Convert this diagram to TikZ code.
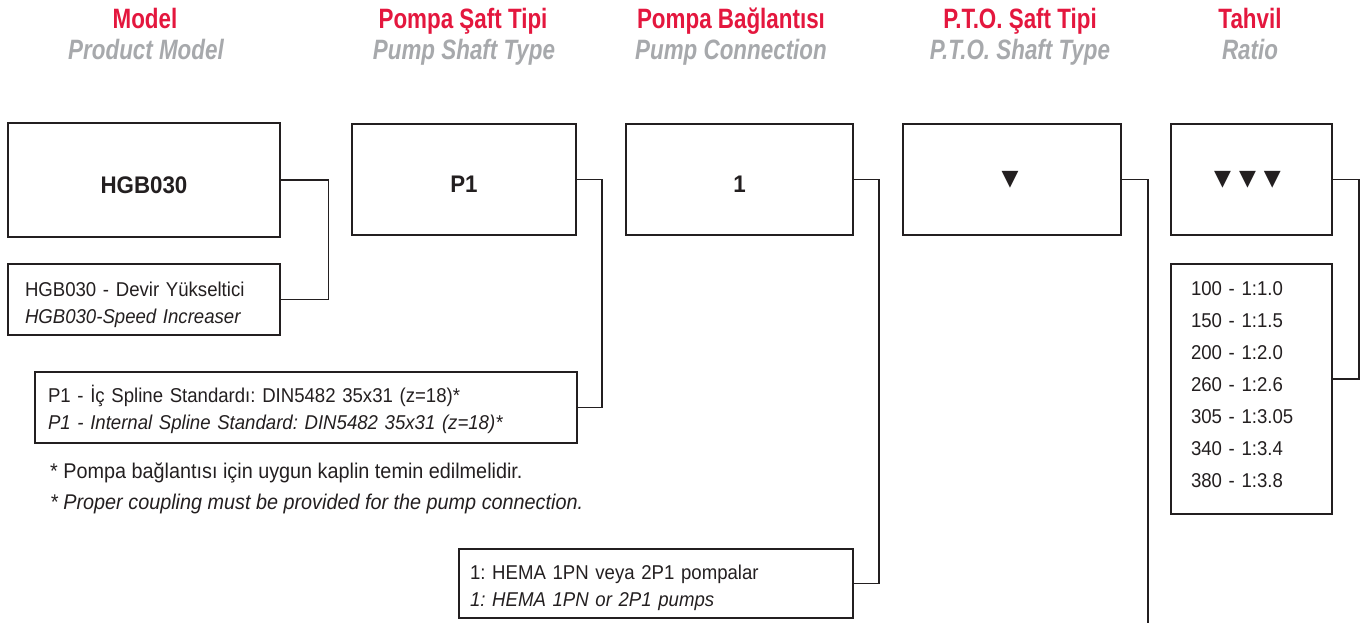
\documentclass[tikz,border=0pt]{standalone}
\usepackage{fontspec}
\setmainfont[FakeStretch=0.93]{Liberation Sans}
\newfontfamily\hdrfont[FakeStretch=0.8]{Liberation Sans}
\newfontfamily\symfont{DejaVu Sans}
\usetikzlibrary{calc}
\definecolor{hred}{HTML}{E4173E}
\definecolor{hgray}{HTML}{A7A9AC}
\definecolor{ink}{HTML}{231F20}
\newcommand\topgap[1]{\rule{0pt}{#1pt}}
\newcommand\botgap[1]{\rule[-#1pt]{0pt}{0pt}}
\tikzset{
  hdrred/.style={anchor=base, text=hred, font=\hdrfont\bfseries\fontsize{28}{31}\selectfont, inner sep=0pt},
  hdrgray/.style={anchor=base, text=hgray, font=\hdrfont\bfseries\itshape\fontsize{28}{31}\selectfont, inner sep=0pt},
  codebox/.style={draw=ink, line width=2pt, text=ink, font=\bfseries\fontsize{24}{28}\selectfont, inner sep=0pt, text height=27pt, text depth=0pt},
  symbox/.style={draw=ink, line width=2pt, text=ink, font=\symfont\fontsize{22}{26}\selectfont, inner sep=0pt},
  descbox/.style={draw=ink, line width=1.6pt, text=ink, font=\fontsize{20}{27}\selectfont, align=left, inner ysep=0pt},
  conn/.style={draw=ink, line width=1.8pt},
  note/.style={text=ink, font=\fontsize{21.3}{31}\selectfont, align=left, inner sep=0pt, anchor=west}
}
\begin{document}
\frenchspacing
\begin{tikzpicture}[x=1pt,y=-1pt]
\useasboundingbox (0,0) rectangle (1360,623);
% headers
\node[hdrred] (h1) at (145,29) {Model};
\node[hdrgray] (g1) at (146,60) {Product Model};
\node[hdrred] (h2) at (463,29) {Pompa Şaft Tipi};
\node[hdrgray] (g2) at (464,60) {Pump Shaft Type};
\node[hdrred] (h3) at (731,29) {Pompa Bağlantısı};
\node[hdrgray] (g3) at (731,60) {Pump Connection};
\node[hdrred] (h4) at (1020,29) {P.T.O. Şaft Tipi};
\node[hdrgray] (g4) at (1020,60) {P.T.O. Shaft Type};
\node[hdrred] (h5) at (1250,29) {Tahvil};
\node[hdrgray] (g5) at (1250,60) {Ratio};
% code boxes
\node[codebox, line width=2.8pt, minimum width=272pt, minimum height=114pt] (hgb) at (144,180) {HGB030};
\node[codebox, minimum width=224pt, minimum height=111pt] (p1) at (464,179.5) {P1};
\node[codebox, minimum width=227pt, minimum height=111pt] (c1) at (739.5,179.5) {1};
\node[symbox, minimum width=218pt, minimum height=111pt] (pto) at (1012,179.5) {\hspace{-4pt}▼};
\node[symbox, minimum width=161pt, minimum height=111pt] (tah) at (1251.5,179.5) {\hspace{-8pt}▼\hspace{8pt}▼\hspace{8pt}▼};
% description boxes
\node[descbox, inner xsep=17pt, text width=238pt, minimum height=71pt] (hgbd) at (144,299.5)
  {\topgap{25}HGB030 - Devir Yükseltici\\\itshape HGB030-Speed Increaser\botgap{5}};
\node[descbox, inner xsep=13pt, text width=516pt, minimum height=71pt] (p1d) at (306,407.5)
  {\topgap{21}P1 - İç Spline Standardı: DIN5482 35x31 (z=18)*\\\itshape P1 - Internal Spline Standard: DIN5482 35x31 (z=18)*\botgap{5}};
\node[descbox, inner xsep=11pt, text width=372pt, minimum height=69pt] (c1d) at (656,583.5)
  {\topgap{23}1: HEMA 1PN veya 2P1 pompalar\\\itshape 1: HEMA 1PN or 2P1 pumps\botgap{5}};
\node[descbox, inner xsep=20pt, text width=121pt, minimum height=250pt, font=\fontsize{20}{32}\selectfont] (ratio) at (1251.5,389)
  {100 - 1:1.0\\150 - 1:1.5\\200 - 1:2.0\\260 - 1:2.6\\305 - 1:3.05\\340 - 1:3.4\\380 - 1:3.8\botgap{8}};
% footnote
\node[note] (fn) at (50,488.5) {* Pompa bağlantısı için uygun kaplin temin edilmelidir.\\\itshape * Proper coupling must be provided for the pump connection.};
% connectors
\draw[conn] (hgb.east) -- ++(47,0) |- (hgbd.east);
\draw[conn] (p1.east) -- ++(25,0) |- (p1d.east);
\draw[conn] (c1.east) -- ++(25,0) |- (c1d.east);
\coordinate (ptoend) at (1148,623);
\draw[conn] (pto.east) -| (ptoend);
\draw[conn] (tah.east) -- ++(26,0) |- ($(ratio.north east)+(0,116)$);
\end{tikzpicture}
\end{document}
